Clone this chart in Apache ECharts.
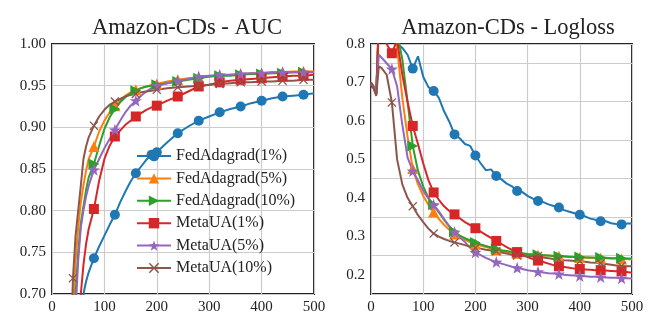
<!DOCTYPE html>
<html>
<head>
<meta charset="utf-8">
<script src="https://cdn.jsdelivr.net/npm/echarts@6/dist/echarts.min.js"></script>
<style>
  html, body { margin: 0; padding: 0; background: #fff; }
  #chart { width: 664px; height: 332px; }
</style>
</head>
<body>
<div id="chart"></div>
<script>
// series names and colours (matplotlib tab10)
const names = ['FedAdagrad(1%)', 'FedAdagrad(5%)', 'FedAdagrad(10%)', 'MetaUA(1%)', 'MetaUA(5%)', 'MetaUA(10%)'];
const colors = ['#1f77b4', '#ff7f0e', '#2ca02c', '#d62728', '#9467bd', '#8c564b'];

// ---- AUC (left) ----
const aucEpochs = [35, 40, 45, 50, 55, 60, 65, 70,
  80, 90, 100, 110, 120, 130, 140, 150, 160, 170, 180, 190, 200,
  220, 240, 260, 280, 300, 320, 340, 360, 380, 400, 420, 440, 460, 480, 500];
const aucFed1 = [0.45, 0.52, 0.58, 0.63, 0.67, 0.700, 0.715, 0.726,
  0.743, 0.757, 0.770, 0.783, 0.795, 0.810, 0.823, 0.835, 0.845, 0.853, 0.861, 0.867, 0.870,
  0.882, 0.893, 0.901, 0.908, 0.913, 0.918, 0.922, 0.925, 0.929, 0.932, 0.935, 0.937, 0.938, 0.939, 0.941];
const aucFed5 = [0.55, 0.68, 0.74, 0.78, 0.81, 0.830, 0.848, 0.862,
  0.877, 0.895, 0.908, 0.918, 0.926, 0.932, 0.938, 0.942, 0.945, 0.947, 0.949, 0.951, 0.952,
  0.955, 0.957, 0.959, 0.960, 0.961, 0.962, 0.963, 0.964, 0.965, 0.965, 0.966, 0.966, 0.967, 0.967, 0.967];
const aucFed10 = [0.50, 0.62, 0.70, 0.75, 0.785, 0.805, 0.825, 0.840,
  0.856, 0.878, 0.898, 0.912, 0.922, 0.930, 0.936, 0.941, 0.944, 0.947, 0.949, 0.950, 0.951,
  0.953, 0.955, 0.957, 0.959, 0.961, 0.962, 0.962, 0.963, 0.964, 0.964, 0.965, 0.965, 0.966, 0.966, 0.966];
const aucMeta1 = [0.40, 0.50, 0.58, 0.65, 0.70, 0.735, 0.760, 0.778,
  0.802, 0.836, 0.862, 0.878, 0.889, 0.896, 0.903, 0.908, 0.913, 0.917, 0.921, 0.924, 0.926,
  0.932, 0.937, 0.943, 0.949, 0.951, 0.954, 0.956, 0.957, 0.958, 0.959, 0.960, 0.961, 0.962, 0.962, 0.963];
const aucMeta5 = [0.50, 0.60, 0.68, 0.74, 0.78, 0.800, 0.817, 0.830,
  0.849, 0.862, 0.875, 0.886, 0.897, 0.908, 0.918, 0.926, 0.932, 0.938, 0.943, 0.947, 0.950,
  0.953, 0.956, 0.958, 0.961, 0.962, 0.963, 0.963, 0.964, 0.965, 0.965, 0.966, 0.966, 0.966, 0.966, 0.966];
const aucMeta10 = [0.62, 0.719, 0.77, 0.80, 0.83, 0.862, 0.877, 0.888,
  0.902, 0.913, 0.921, 0.927, 0.931, 0.934, 0.937, 0.939, 0.940, 0.942, 0.943, 0.944, 0.945,
  0.947, 0.948, 0.949, 0.950, 0.951, 0.952, 0.953, 0.954, 0.954, 0.955, 0.955, 0.956, 0.956, 0.957, 0.957];

// ---- Logloss (right) ----
const llEpochs = [0, 5, 10, 15, 20, 30, 40, 50, 60, 70, 80, 90, 100, 110, 120, 130, 140, 150, 160, 170, 180, 190, 200,
  210, 220, 230, 240, 250, 260, 270, 280, 290, 300, 310, 320, 330, 340, 350, 360, 370, 380, 390, 400,
  410, 420, 430, 440, 450, 460, 470, 480, 490, 500];
const llFed1 = [0.700, 0.690, 0.670, 0.850, 0.880, 0.860, 0.830, 0.800, 0.790, 0.772, 0.736, 0.768, 0.715, 0.688, 0.678, 0.660, 0.625, 0.598, 0.565, 0.555, 0.540, 0.535, 0.510,
  0.490, 0.472, 0.474, 0.457, 0.448, 0.437, 0.430, 0.418, 0.415, 0.405, 0.398, 0.392, 0.389, 0.383, 0.379, 0.375, 0.368, 0.364, 0.360, 0.356,
  0.352, 0.346, 0.343, 0.339, 0.339, 0.334, 0.332, 0.331, 0.333, 0.333];
const llFed5 = [0.695, 0.685, 0.668, 0.860, 0.900, 0.880, 0.840, 0.790, 0.660, 0.560, 0.476, 0.435, 0.405, 0.382, 0.363, 0.345, 0.330, 0.317, 0.306, 0.298, 0.291, 0.285, 0.280,
  0.276, 0.272, 0.268, 0.265, 0.262, 0.259, 0.257, 0.256, 0.254, 0.253, 0.252, 0.251, 0.250, 0.250, 0.249, 0.248, 0.247, 0.246, 0.246, 0.245,
  0.245, 0.244, 0.244, 0.243, 0.243, 0.242, 0.242, 0.241, 0.241, 0.240];
const llFed10 = [0.695, 0.690, 0.670, 0.870, 0.920, 0.900, 0.870, 0.830, 0.760, 0.650, 0.535, 0.470, 0.430, 0.400, 0.382, 0.362, 0.343, 0.326, 0.312, 0.302, 0.295, 0.289, 0.284,
  0.279, 0.275, 0.271, 0.267, 0.264, 0.262, 0.259, 0.257, 0.256, 0.254, 0.253, 0.252, 0.251, 0.250, 0.249, 0.248, 0.248, 0.247, 0.246, 0.246,
  0.245, 0.245, 0.244, 0.245, 0.244, 0.243, 0.243, 0.243, 0.242, 0.242];
const llMeta1 = [0.690, 0.685, 0.670, 0.850, 0.860, 0.800, 0.776, 0.810, 0.720, 0.650, 0.587, 0.540, 0.490, 0.446, 0.414, 0.395, 0.378, 0.366, 0.357, 0.347, 0.337, 0.329, 0.321,
  0.312, 0.304, 0.296, 0.288, 0.280, 0.272, 0.265, 0.259, 0.252, 0.246, 0.241, 0.237, 0.233, 0.229, 0.225, 0.222, 0.220, 0.218, 0.216, 0.215,
  0.214, 0.213, 0.212, 0.212, 0.211, 0.210, 0.209, 0.209, 0.207, 0.205];
const llMeta5 = [0.700, 0.690, 0.670, 0.772, 0.765, 0.750, 0.735, 0.690, 0.590, 0.505, 0.470, 0.445, 0.418, 0.398, 0.382, 0.365, 0.345, 0.326, 0.311, 0.297, 0.285, 0.270, 0.258,
  0.251, 0.244, 0.238, 0.233, 0.229, 0.225, 0.221, 0.218, 0.215, 0.212, 0.210, 0.208, 0.206, 0.204, 0.203, 0.202, 0.200, 0.199, 0.198, 0.197,
  0.196, 0.195, 0.195, 0.194, 0.193, 0.192, 0.192, 0.191, 0.191, 0.190];
const llMeta10 = [0.700, 0.685, 0.665, 0.742, 0.738, 0.720, 0.648, 0.500, 0.435, 0.400, 0.378, 0.355, 0.337, 0.320, 0.307, 0.299, 0.293, 0.288, 0.284, 0.281, 0.277, 0.273, 0.270,
  0.268, 0.265, 0.263, 0.261, 0.258, 0.255, 0.252, 0.250, 0.249, 0.248, 0.248, 0.249, 0.245, 0.243, 0.241, 0.240, 0.238, 0.237, 0.236, 0.235,
  0.234, 0.232, 0.231, 0.230, 0.228, 0.226, 0.224, 0.223, 0.222, 0.222];

// epochs where a marker is drawn
const markEpochs = [40, 80, 120, 160, 200, 240, 280, 320, 360, 400, 440, 480];
const aucFed1Extra = [190];

const xTicks = [0, 100, 200, 300, 400, 500];
const llTicks = [0.2, 0.3, 0.4, 0.5, 0.6, 0.7, 0.8];

// marker shapes
const starPath = 'path://M0,-10 L2.35,-3.24 L9.51,-3.09 L3.8,1.24 L5.88,8.09 L0,4 L-5.88,8.09 L-3.8,1.24 L-9.51,-3.09 L-2.35,-3.24 Z';
const crossPath = 'path://M-10,-8 L-8,-10 L0,-2 L8,-10 L10,-8 L2,0 L10,8 L8,10 L0,2 L-8,10 L-10,8 L-2,0 Z';
const symbols = ['circle', 'triangle', 'triangle', 'rect', starPath, crossPath];
const symbolRot = [0, 0, -90, 0, 0, 0];
const symbolSizes = [10, 11, 11, 10, 12, 9];

const chart = echarts.init(document.getElementById('chart'));
const FONT = 'Liberation Serif';

function buildData(xs, ys, extra) {
  const marks = markEpochs.concat(extra || []);
  return xs.map((x, i) => marks.includes(x) ? [x, ys[i]] : { value: [x, ys[i]], symbol: 'none' });
}

function makeSeries(k, xs, ys, gi, extra) {
  return {
    name: names[k],
    type: 'line',
    xAxisIndex: gi,
    yAxisIndex: gi,
    data: buildData(xs, ys, extra),
    symbol: symbols[k],
    symbolRotate: symbolRot[k],
    symbolSize: symbolSizes[k],
    showSymbol: true,
    showAllSymbol: true,
    clip: true,
    lineStyle: { color: colors[k], width: 2 },
    itemStyle: { color: colors[k] },
    emphasis: { disabled: true }
  };
}

const aucSets = [aucFed1, aucFed5, aucFed10, aucMeta1, aucMeta5, aucMeta10];
const llSets = [llFed1, llFed5, llFed10, llMeta1, llMeta5, llMeta10];

const series = [];
aucSets.forEach((ys, k) => series.push(makeSeries(k, aucEpochs, ys, 0, k === 0 ? aucFed1Extra : null)));
llSets.forEach((ys, k) => series.push(makeSeries(k, llEpochs, ys, 1, null)));

const labelStyle = { color: '#222', fontFamily: FONT, fontSize: 15, margin: 6 };
const axisCommon = {
  axisLine: { show: false },
  axisTick: { show: false },
  splitLine: { show: true, lineStyle: { color: '#cccccc', width: 1.2 } }
};

let option = {
  animation: false,
  textStyle: { fontFamily: FONT },
  title: [
    { text: 'Amazon-CDs - AUC', left: 182, top: 12, textAlign: 'center',
      textStyle: { fontFamily: FONT, fontSize: 22.5, fontWeight: 'normal', color: '#222' } },
    { text: 'Amazon-CDs - Logloss', left: 503, top: 12, textAlign: 'center',
      textStyle: { fontFamily: FONT, fontSize: 22.5, fontWeight: 'normal', color: '#222' } }
  ],
  legend: {
    data: names,
    orient: 'vertical',
    left: 131,
    top: 143,
    itemWidth: 34,
    itemHeight: 13,
    itemGap: 6.4,
    textStyle: { fontFamily: FONT, fontSize: 16, color: '#222' }
  },
  grid: [
    { left: 52, top: 44, width: 262, height: 250, show: true, borderColor: '#222', borderWidth: 2, backgroundColor: 'transparent' },
    { left: 371, top: 44, width: 261, height: 250, show: true, borderColor: '#222', borderWidth: 2, backgroundColor: 'transparent' }
  ],
  xAxis: [
    Object.assign({}, axisCommon, { type: 'value', gridIndex: 0, min: 0, max: 500, interval: 100,
      axisLabel: Object.assign({}, labelStyle, { customValues: xTicks }) }),
    Object.assign({}, axisCommon, { type: 'value', gridIndex: 1, min: 0, max: 500, interval: 100,
      axisLabel: Object.assign({}, labelStyle, { customValues: xTicks }) })
  ],
  yAxis: [
    Object.assign({}, axisCommon, { type: 'value', gridIndex: 0, min: 0.70, max: 1.00, interval: 0.05,
      axisLabel: Object.assign({}, labelStyle, { formatter: v => v.toFixed(2) }) }),
    Object.assign({}, axisCommon, { type: 'value', gridIndex: 1, min: 0.15, max: 0.8, interval: 0.1,
      axisLabel: Object.assign({}, labelStyle, { customValues: llTicks, formatter: v => v.toFixed(1) }),
      splitLine: { show: true, lineStyle: { color: '#cccccc', width: 1.2 } } })
  ],
  series: series
};

chart.setOption(option);
</script>
</body>
</html>
